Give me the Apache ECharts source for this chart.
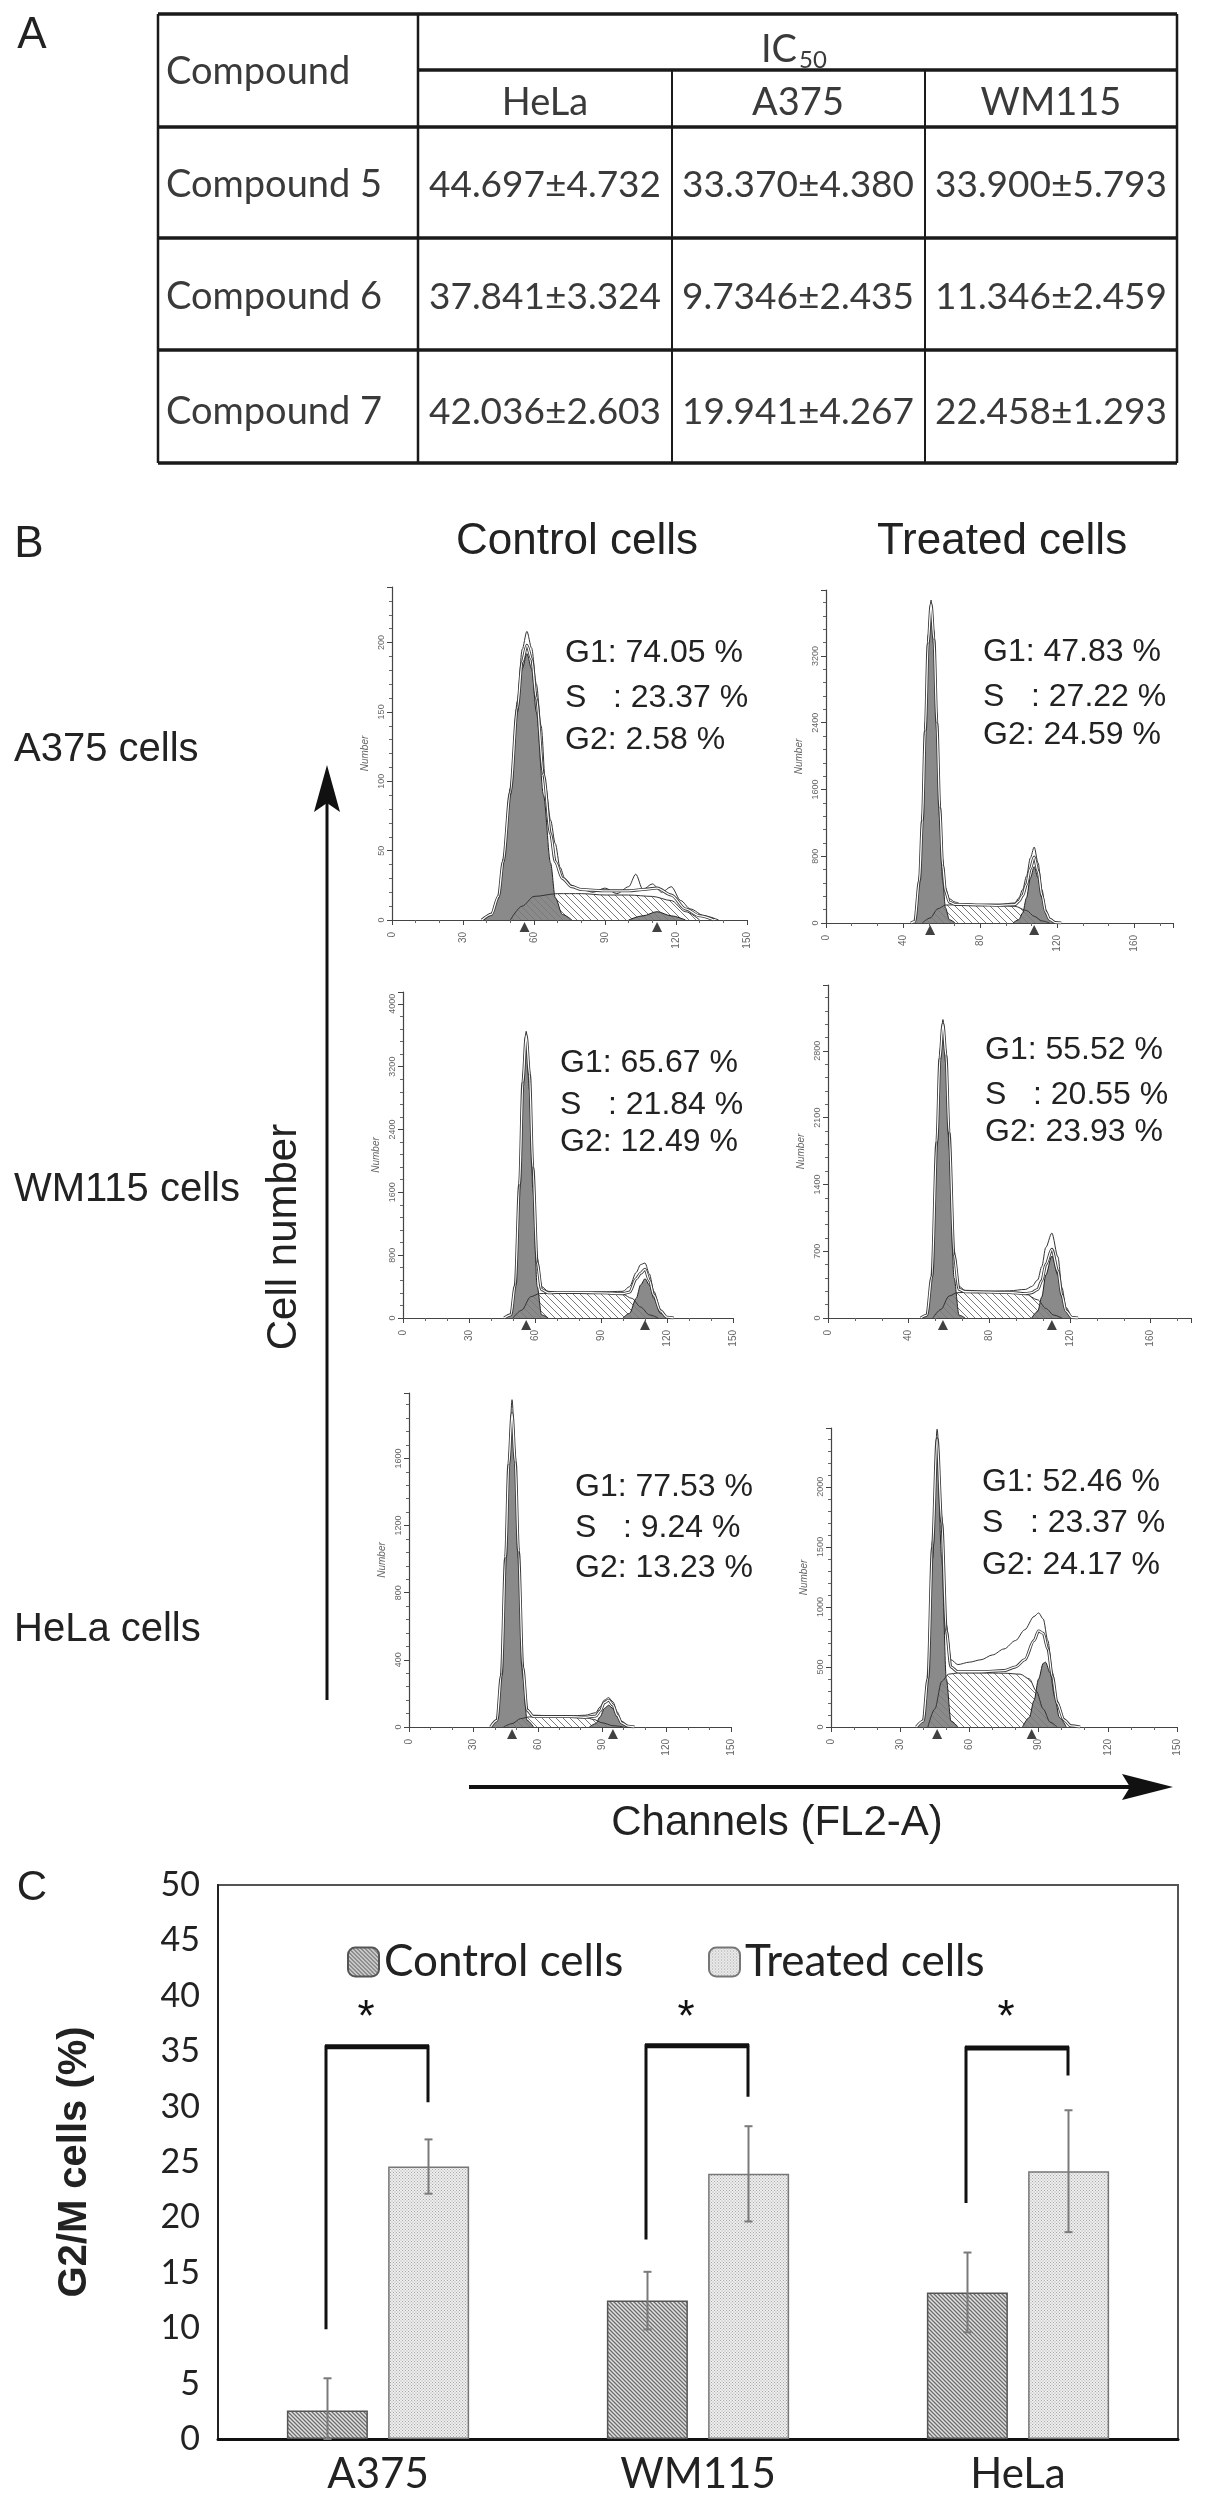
<!DOCTYPE html>
<html>
<head>
<meta charset="utf-8">
<title>IC50 and cell cycle</title>
<script src="https://cdn.jsdelivr.net/npm/echarts@6/dist/echarts.min.js"></script>
<style>
html, body { margin: 0; padding: 0; background: #fff; }
#main { width: 1205px; height: 2502px; }
</style>
</head>
<body>
<div id="main"></div>
<script>
// ---- A: IC50 table
var compounds = ['Compound 5', 'Compound 6', 'Compound 7'];
var cellLines = ['HeLa', 'A375', 'WM115'];
var ic50Mean = [['44.697', '33.370', '33.900'], ['37.841', '9.7346', '11.346'], ['42.036', '19.941', '22.458']];
var ic50Sd = [['4.732', '4.380', '5.793'], ['3.324', '2.435', '2.459'], ['2.603', '4.267', '1.293']];

// ---- B: cell cycle histograms (channel, count)
var rowNames = ['A375 cells', 'WM115 cells', 'HeLa cells'];
var phaseLabels = ['G1', 'S   ', 'G2'];
var a375CtrlPct = ['74.05', '23.37', '2.58'];
var a375TrtPct = ['47.83', '27.22', '24.59'];
var wm115CtrlPct = ['65.67', '21.84', '12.49'];
var wm115TrtPct = ['55.52', '20.55', '23.93'];
var helaCtrlPct = ['77.53', '9.24', '13.23'];
var helaTrtPct = ['52.46', '23.37', '24.17'];

var a375CtrlG1 = [[38,0],[42,4],[45,16],[47,41],[50,90],[53,150],[55,181],[57,192],[59,181],[61,150],[64,90],[67,41],[69,16],[72,4],[76,0]];
var a375CtrlS = [[50,0],[55,10],[60,17],[70,19],[80,19],[90,18],[100,18],[110,17],[118,14],[124,6],[130,0]];
var a375CtrlG2 = [[100,0],[106,3],[112,6],[118,3],[124,0]];
var a375CtrlFit = [[38,0],[42,4],[45,17],[47,42],[50,92],[53,153],[55,186],[57,198],[59,188],[61,160],[64,105],[67,62],[69,42],[72,30],[76,24],[80,22],[90,21],[100,21],[106,22],[112,23],[118,18],[124,8],[130,3],[136,0]];
var a375CtrlRaw = [[38,0],[42,5],[45,18],[47,44],[50,95],[53,158],[55,195],[57,208],[59,196],[61,170],[63,140],[65,95],[67,72],[69,55],[71,38],[73,30],[76,25],[80,22],[85,20],[90,23],[95,19],[100,24],[103,33],[106,22],[110,26],[114,20],[118,24],[122,14],[126,8],[132,3],[138,0]];
var a375CtrlPeaks = [56, 112];

var a375TrtG1 = [[44,0],[46,15],[48.5,510],[50,1220],[51.5,2270],[53,3300],[54.5,3750],[56,3300],[57.5,2270],[59,1220],[60.5,510],[62,180],[64,40],[67,0]];
var a375TrtS = [[50,0],[54,60],[58,170],[62,215],[70,220],[80,215],[90,210],[98,200],[104,150],[108,80],[112,25],[116,0]];
var a375TrtG2 = [[97,0],[100,40],[102,120],[104,300],[106,540],[108,674],[110,540],[112,300],[114,120],[116,40],[119,0]];
var a375TrtFit = [[44,0],[46,15],[48.5,510],[50,1225],[51.5,2300],[53,3350],[54.5,3820],[56,3400],[57.5,2400],[59,1380],[60.5,690],[62,380],[64,250],[67,222],[70,222],[80,217],[90,212],[98,220],[100,260],[102,330],[104,460],[106,650],[108,790],[110,620],[112,330],[114,130],[116,45],[119,5],[122,0]];
var a375TrtRaw = [[44,0],[46,20],[48.5,560],[50,1300],[51.5,2400],[53,3450],[54.5,3870],[56,3500],[57.5,2500],[59,1450],[60.5,760],[62,420],[64,290],[67,250],[70,230],[80,220],[90,225],[98,240],[100,300],[102,400],[104,560],[106,780],[108,910],[110,720],[112,400],[114,160],[116,60],[119,10],[122,0]];
var a375TrtPeaks = [54, 108];

var wm115CtrlG1 = [[46,0],[49,40],[51,400],[53,1650],[54.5,2900],[56,3450],[57.5,2900],[59,1650],[61,400],[63,40],[66,0]];
var wm115CtrlS = [[50,0],[54,100],[58,270],[62,310],[70,320],[80,320],[90,315],[100,300],[104,250],[108,140],[112,40],[116,0]];
var wm115CtrlG2 = [[100,0],[103,60],[106,250],[108,420],[110,500],[112,420],[114,250],[117,60],[120,0]];
var wm115CtrlFit = [[46,0],[49,40],[51,410],[53,1700],[54.5,3000],[56,3600],[57.5,3100],[59,1920],[61,700],[63,360],[66,320],[70,325],[80,325],[90,320],[100,310],[103,330],[106,500],[108,570],[110,620],[112,480],[114,290],[117,90],[120,10],[123,0]];
var wm115CtrlRaw = [[46,0],[49,45],[51,430],[53,1750],[54.5,3100],[56,3650],[57.5,3150],[59,1980],[61,760],[63,400],[66,340],[70,330],[80,320],[90,330],[100,340],[103,400],[106,580],[108,680],[110,700],[112,560],[114,340],[117,110],[120,15],[123,0]];
var wm115CtrlPeaks = [56, 110];

var wm115TrtG1 = [[46,0],[49,30],[51.5,420],[54,1800],[55.5,2650],[57,3000],[58.5,2650],[60,1800],[62.5,420],[65,30],[68,0]];
var wm115TrtS = [[52,0],[56,90],[60,230],[64,265],[70,270],[80,270],[90,265],[98,250],[104,190],[108,100],[112,30],[116,0]];
var wm115TrtG2 = [[101,0],[104,70],[106,220],[108,450],[111,650],[114,450],[116,220],[118,70],[121,0]];
var wm115TrtFit = [[46,0],[49,30],[51.5,430],[54,1850],[55.5,2720],[57,3080],[58.5,2750],[60,1950],[62.5,660],[65,300],[68,275],[80,272],[90,267],[98,255],[101,265],[104,300],[106,390],[108,560],[111,720],[114,490],[116,240],[118,75],[121,5],[124,0]];
var wm115TrtRaw = [[46,0],[49,35],[51.5,450],[54,1900],[55.5,2800],[57,3128],[58.5,2800],[60,2000],[62.5,700],[65,330],[68,290],[80,280],[90,285],[98,300],[101,330],[104,400],[106,540],[108,740],[111,890],[114,640],[116,320],[118,110],[121,15],[124,0]];
var wm115TrtPeaks = [57, 111];

var helaCtrlG1 = [[38,0],[41,40],[43,300],[45,1000],[46.5,1550],[48,1850],[49.5,1550],[51,1000],[53,300],[55,40],[58,0]];
var helaCtrlS = [[44,0],[48,20],[52,50],[56,60],[65,62],[75,62],[82,58],[86,45],[90,25],[95,8],[100,0]];
var helaCtrlG2 = [[84,0],[87,20],[89,60],[91,110],[93,130],[95,110],[97,60],[99,20],[102,0]];
var helaCtrlFit = [[38,0],[41,40],[43,305],[45,1010],[46.5,1565],[48,1870],[49.5,1580],[51,1045],[53,355],[55,100],[58,62],[65,62],[75,62],[82,58],[87,65],[89,95],[91,145],[93,160],[95,130],[97,70],[99,25],[102,5],[105,0]];
var helaCtrlRaw = [[38,0],[41,45],[43,320],[45,1030],[46.5,1600],[48,1950],[49.5,1620],[51,1070],[53,380],[55,110],[58,70],[65,68],[75,66],[82,70],[87,85],[89,120],[91,160],[93,175],[95,150],[97,90],[99,35],[102,8],[105,0]];
var helaCtrlPeaks = [48, 95];

var helaTrtG1 = [[37,0],[40,50],[42,400],[44,1400],[46,2300],[48,1400],[50,400],[52,50],[55,0]];
var helaTrtS = [[42,0],[45,150],[48,380],[51,440],[55,450],[65,450],[75,448],[82,440],[86,400],[89,300],[92,150],[95,40],[98,0]];
var helaTrtG2 = [[83,0],[86,80],[88,220],[90,400],[92,530],[93,540],[95,450],[97,250],[99,80],[102,0]];
var helaTrtFit = [[37,0],[40,50],[42,400],[44,1500],[46,2400],[48,1700],[50,800],[52,500],[55,460],[65,460],[75,470],[80,500],[84,560],[88,720],[90,800],[92,780],[94,650],[96,420],[98,200],[101,60],[104,10],[108,0]];
var helaTrtRaw = [[37,0],[40,60],[42,420],[44,1550],[46,2480],[48,1750],[50,850],[52,560],[55,520],[60,540],[65,560],[70,600],[75,650],[80,720],[84,810],[88,920],[90,950],[92,900],[94,720],[96,450],[98,220],[101,70],[104,15],[108,0]];
var helaTrtPeaks = [46, 87];

// ---- C: G2/M bars
var groups = ['A375', 'WM115', 'HeLa'];
var controlG2M = [2.58, 12.49, 13.23];
var treatedG2M = [24.59, 23.93, 24.17];
var controlErr = [2.9, 2.6, 3.6];
var treatedErr = [2.45, 4.3, 5.5];
var bracketLeftEnd = [9.9, 18.0, 21.3];
var bracketRightEnd = [30.4, 30.9, 32.8];
var bracketTop = [35.4, 35.5, 35.3];
var starLevel = [38.7, 38.7, 38.7];

// histogram panels, in reading order
var hists = [
    {g1: a375CtrlG1, s: a375CtrlS, g2: a375CtrlG2, fit: a375CtrlFit, raw: a375CtrlRaw, peaks: a375CtrlPeaks, pct: a375CtrlPct},
    {g1: a375TrtG1, s: a375TrtS, g2: a375TrtG2, fit: a375TrtFit, raw: a375TrtRaw, peaks: a375TrtPeaks, pct: a375TrtPct},
    {g1: wm115CtrlG1, s: wm115CtrlS, g2: wm115CtrlG2, fit: wm115CtrlFit, raw: wm115CtrlRaw, peaks: wm115CtrlPeaks, pct: wm115CtrlPct},
    {g1: wm115TrtG1, s: wm115TrtS, g2: wm115TrtG2, fit: wm115TrtFit, raw: wm115TrtRaw, peaks: wm115TrtPeaks, pct: wm115TrtPct},
    {g1: helaCtrlG1, s: helaCtrlS, g2: helaCtrlG2, fit: helaCtrlFit, raw: helaCtrlRaw, peaks: helaCtrlPeaks, pct: helaCtrlPct},
    {g1: helaTrtG1, s: helaTrtS, g2: helaTrtG2, fit: helaTrtFit, raw: helaTrtRaw, peaks: helaTrtPeaks, pct: helaTrtPct}
];
// layout of each histogram box (pixels) and its scales
var histLayout = [
    {left: 392, top: 587, width: 355, height: 333, xMax: 150, xInt: 30, yMax: 240, yInt: 50, tx: 565, ty: [653, 698, 740]},
    {left: 826, top: 590, width: 347, height: 333, xMax: 180, xInt: 40, yMax: 3990, yInt: 800, tx: 983, ty: [652, 697, 735]},
    {left: 403, top: 992, width: 330, height: 326, xMax: 150, xInt: 30, yMax: 4150, yInt: 800, tx: 560, ty: [1063, 1105, 1142]},
    {left: 828, top: 985, width: 363, height: 333, xMax: 180, xInt: 40, yMax: 3490, yInt: 700, tx: 985, ty: [1050, 1095, 1132]},
    {left: 409, top: 1393, width: 322, height: 334, xMax: 150, xInt: 30, yMax: 1990, yInt: 400, tx: 575, ty: [1487, 1528, 1568]},
    {left: 831, top: 1428, width: 346, height: 299, xMax: 150, xInt: 30, yMax: 2490, yInt: 500, tx: 982, ty: [1482, 1523, 1565]}
];

function hatch(size, bg, fg, lw) {
    var c = document.createElement('canvas');
    c.width = size; c.height = size;
    var ctx = c.getContext('2d');
    if (bg) { ctx.fillStyle = bg; ctx.fillRect(0, 0, size, size); }
    ctx.strokeStyle = fg;
    ctx.lineWidth = lw;
    ctx.beginPath();
    ctx.moveTo(-1, -1); ctx.lineTo(size + 1, size + 1);
    ctx.moveTo(-1, size - 1); ctx.lineTo(1, size + 1);
    ctx.moveTo(size - 1, -1); ctx.lineTo(size + 1, 1);
    ctx.stroke();
    return {image: c, repeat: 'repeat'};
}
function dots(size, bg, fg) {
    var c = document.createElement('canvas');
    c.width = size; c.height = size;
    var ctx = c.getContext('2d');
    ctx.fillStyle = bg; ctx.fillRect(0, 0, size, size);
    ctx.fillStyle = fg;
    ctx.fillRect(0, 0, 1, 1);
    ctx.fillRect(size / 2, size / 2, 1, 1);
    return {image: c, repeat: 'repeat'};
}

var sHatch = hatch(7, null, '#7a7a7a', 1);
var ctrlFill = hatch(4, '#e2e2e2', '#6e6e6e', 1.3);
var trtFill = dots(3, '#eeeeee', '#a8a8a8');

var grids = [], xAxes = [], yAxes = [], series = [], els = [];

function onlyMultiples(step) {
    return function (v) { return (Math.round(v) % step === 0) ? v : ''; };
}
function areaLine(i, data, fill, edge) {
    return {
        type: 'line', xAxisIndex: i, yAxisIndex: i, data: data, showSymbol: false,
        smooth: 0.3, smoothMonotone: 'x', silent: true,
        lineStyle: {color: edge, width: 1}, areaStyle: {color: fill, opacity: 1}
    };
}
function plainLine(i, data, color, w) {
    return {
        type: 'line', xAxisIndex: i, yAxisIndex: i, data: data, showSymbol: false,
        smooth: 0.3, smoothMonotone: 'x', silent: true,
        lineStyle: {color: color, width: w}
    };
}

hists.forEach(function (h, i) {
    var L = histLayout[i];
    grids.push({left: L.left, top: L.top, width: L.width, height: L.height});
    xAxes.push({
        type: 'value', gridIndex: i, min: 0, max: L.xMax, interval: L.xInt,
        axisLine: {lineStyle: {color: '#444', width: 1.2}},
        axisTick: {length: 5, lineStyle: {color: '#444'}},
        minorTick: {show: true, splitNumber: 3, length: 3, lineStyle: {color: '#666'}},
        splitLine: {show: false},
        axisLabel: {fontSize: 10, fontFamily: 'Liberation Sans', color: '#666', rotate: 90, margin: 12, formatter: onlyMultiples(L.xInt)}
    });
    yAxes.push({
        type: 'value', gridIndex: i, min: 0, max: L.yMax, interval: L.yInt,
        name: 'Number', nameLocation: 'middle', nameGap: 22,
        nameTextStyle: {fontSize: 10, fontStyle: 'italic', fontFamily: 'Liberation Sans', color: '#666'},
        axisLine: {show: true, lineStyle: {color: '#444', width: 1.2}},
        axisTick: {show: true, length: 5, lineStyle: {color: '#444'}},
        minorTick: {show: true, splitNumber: 5, length: 3, lineStyle: {color: '#666'}},
        splitLine: {show: false},
        axisLabel: {fontSize: 9, fontFamily: 'Liberation Sans', color: '#666', rotate: 90, margin: 6, formatter: onlyMultiples(L.yInt)}
    });
    series.push(areaLine(i, h.g1, '#8a8a8a', '#222'));
    series.push(areaLine(i, h.g2, '#8a8a8a', '#222'));
    series.push(areaLine(i, h.s, sHatch, '#333'));
    series.push(plainLine(i, h.raw, '#333', 1));
    series.push(plainLine(i, h.fit, '#3a3a3a', 3));
    series.push(plainLine(i, h.fit, '#ffffff', 1.3));
    series.push({
        type: 'scatter', xAxisIndex: i, yAxisIndex: i, clip: false, silent: true,
        data: h.peaks.map(function (p) { return [p, 0]; }),
        symbol: 'triangle', symbolSize: [10, 10], symbolOffset: [0, 7],
        itemStyle: {color: '#111'}
    });
    // phase percentages
    h.pct.forEach(function (p, j) {
        els.push({type: 'text', x: L.tx, y: L.ty[j], style: {
            text: phaseLabels[j] + ': ' + p + ' %', fontSize: 32, fontFamily: 'Liberation Sans', fill: '#222',
            align: 'left', verticalAlign: 'middle', textAlign: 'left', textVerticalAlign: 'middle'}});
    });
});

// ---- bar chart grid
grids.push({left: 218, top: 1885, width: 960, height: 554, show: true, borderColor: '#555', borderWidth: 2});
xAxes.push({
    type: 'category', gridIndex: 6, data: groups,
    axisLine: {lineStyle: {color: '#111', width: 3}},
    axisTick: {show: false},
    axisLabel: {fontSize: 42, fontFamily: 'Lato', color: '#222', margin: 14}
});
yAxes.push({
    type: 'value', gridIndex: 6, min: 0, max: 50, interval: 5,
    name: 'G2/M cells (%)', nameLocation: 'middle', nameGap: 123,
    nameTextStyle: {fontSize: 40, fontWeight: 'bold', fontFamily: 'Liberation Sans', color: '#222'},
    axisLine: {show: true, lineStyle: {color: '#222', width: 2}},
    axisTick: {show: false},
    splitLine: {show: false},
    axisLabel: {fontSize: 34, fontFamily: 'Lato', color: '#222', margin: 18}
});
series.push({
    type: 'bar', name: 'Control cells', xAxisIndex: 6, yAxisIndex: 6, data: controlG2M,
    barWidth: 81, barGap: '25%', itemStyle: {color: ctrlFill, borderColor: '#555', borderWidth: 1.5}
});
series.push({
    type: 'bar', name: 'Treated cells', xAxisIndex: 6, yAxisIndex: 6, data: treatedG2M,
    barWidth: 81, barGap: '25%', itemStyle: {color: trtFill, borderColor: '#777', borderWidth: 1.5}
});

function errorBars(offset) {
    return function (params, api) {
        var k = api.value(0);
        var lo = api.coord([k, api.value(1)]);
        var hi = api.coord([k, api.value(2)]);
        var x = lo[0] + offset;
        var st = {stroke: '#7a7a7a', lineWidth: 2};
        return {type: 'group', children: [
            {type: 'line', shape: {x1: x, y1: lo[1], x2: x, y2: hi[1]}, style: st},
            {type: 'line', shape: {x1: x - 4, y1: hi[1], x2: x + 4, y2: hi[1]}, style: st},
            {type: 'line', shape: {x1: x - 4, y1: lo[1], x2: x + 4, y2: lo[1]}, style: st}
        ]};
    };
}
series.push({
    type: 'custom', xAxisIndex: 6, yAxisIndex: 6, silent: true, z: 5,
    data: controlG2M.map(function (v, k) { return [k, Math.max(0, v - controlErr[k]), v + controlErr[k]]; }),
    renderItem: errorBars(-50.5)
});
series.push({
    type: 'custom', xAxisIndex: 6, yAxisIndex: 6, silent: true, z: 5,
    data: treatedG2M.map(function (v, k) { return [k, v - treatedErr[k], v + treatedErr[k]]; }),
    renderItem: errorBars(50.5)
});
// significance brackets and stars
series.push({
    type: 'custom', xAxisIndex: 6, yAxisIndex: 6, silent: true, z: 6,
    data: groups.map(function (g, k) { return [k, bracketLeftEnd[k], bracketRightEnd[k], bracketTop[k], starLevel[k]]; }),
    renderItem: function (params, api) {
        var k = api.value(0);
        var xc = api.coord([k, 0])[0];
        var yL = api.coord([k, api.value(1)])[1];
        var yR = api.coord([k, api.value(2)])[1];
        var yT = api.coord([k, api.value(3)])[1];
        var yS = api.coord([k, api.value(4)])[1];
        var xl = xc - 52, xr = xc + 50;
        return {type: 'group', children: [
            {type: 'polyline', shape: {points: [[xl, yL], [xl, yT], [xr, yT], [xr, yR]]},
                style: {stroke: '#111', lineWidth: 3, fill: null}},
            {type: 'line', shape: {x1: xl - 1, y1: yT, x2: xr + 1, y2: yT}, style: {stroke: '#111', lineWidth: 5}},
            {type: 'text', x: xc - 12, y: yS + 9, style: {text: '*', fontSize: 44, fontFamily: 'Liberation Sans', fill: '#111',
                align: 'center', verticalAlign: 'middle', textAlign: 'center', textVerticalAlign: 'middle'}}
        ]};
    }
});

// ---- static text / table / arrows
function txt(x, y, s, size, align, extra) {
    var st = {text: s, fontSize: size, fontFamily: 'Liberation Sans', fill: '#222',
        align: align || 'left', verticalAlign: 'middle', textAlign: align || 'left', textVerticalAlign: 'middle'};
    if (extra) { for (var k in extra) st[k] = extra[k]; }
    return {type: 'text', x: x, y: y, style: st};
}
function seg(x1, y1, x2, y2, w, c) {
    return {type: 'line', shape: {x1: x1, y1: y1, x2: x2, y2: y2}, style: {stroke: c || '#1a1a1a', lineWidth: w}};
}

// panel letters
els.push(txt(32, 36, 'A', 44, 'center'));
els.push(txt(29, 545, 'B', 44, 'center'));
els.push(txt(32, 1888, 'C', 42, 'center'));

// table grid
var colX = [158, 418, 672, 925, 1177];
var rowY = [14, 70, 127, 238, 350, 463];
els.push(seg(colX[0], rowY[0], colX[4], rowY[0], 3.5));
els.push(seg(colX[1], rowY[1], colX[4], rowY[1], 3.5));
for (var r = 2; r < rowY.length; r++) els.push(seg(colX[0], rowY[r], colX[4], rowY[r], 3.5));
els.push(seg(colX[0], rowY[0], colX[0], rowY[5], 2.5));
els.push(seg(colX[1], rowY[0], colX[1], rowY[5], 2.5));
els.push(seg(colX[2], rowY[1], colX[2], rowY[5], 2));
els.push(seg(colX[3], rowY[1], colX[3], rowY[5], 2));
els.push(seg(colX[4], rowY[0], colX[4], rowY[5], 2.5));

var tFont = {fontFamily: 'Lato', fill: '#3a3a3a'};
els.push(txt(166, 72, 'Compound', 38, 'left', tFont));
els.push(txt(797, 50, 'IC', 38, 'right', tFont));
els.push(txt(799, 60, '50', 24, 'left', tFont));
var colMid = [545, 798, 1051];
var rowMid = [185, 297, 412];
cellLines.forEach(function (c, j) { els.push(txt(colMid[j], 103, c, 38, 'center', tFont)); });
compounds.forEach(function (c, r) {
    els.push(txt(166, rowMid[r], c, 38, 'left', tFont));
    for (var j = 0; j < 3; j++) {
        els.push(txt(colMid[j], rowMid[r], ic50Mean[r][j] + '\u00b1' + ic50Sd[r][j], 37, 'center', tFont));
    }
});

// panel B headings and row labels
els.push(txt(577, 542, 'Control cells', 44, 'center'));
els.push(txt(1002, 542, 'Treated cells', 44, 'center'));
var rowLabelY = [750, 1190, 1630];
rowNames.forEach(function (n, r) { els.push(txt(14, rowLabelY[r], n, 40, 'left')); });

// axis arrows
els.push(seg(327, 1700, 327, 800, 3, '#111'));
els.push({type: 'polygon', shape: {points: [[327, 765], [314, 812], [327, 803], [340, 812]]}, style: {fill: '#111'}});
els.push({type: 'text', x: 284, y: 1237, rotation: Math.PI / 2, style: {text: 'Cell number', fontSize: 42,
    fontFamily: 'Liberation Sans', fill: '#222', align: 'center', verticalAlign: 'middle', textAlign: 'center', textVerticalAlign: 'middle'}});
els.push(seg(469, 1787, 1135, 1787, 4, '#111'));
els.push({type: 'polygon', shape: {points: [[1173, 1787], [1122, 1774], [1130, 1787], [1122, 1800]]}, style: {fill: '#111'}});
els.push(txt(777, 1823, 'Channels (FL2-A)', 42, 'center'));

var option = {
    animation: false,
    backgroundColor: '#fff',
    grid: grids,
    xAxis: xAxes,
    yAxis: yAxes,
    legend: [
        {data: ['Control cells'], left: 347, top: 1940, padding: 0, selectedMode: false,
            itemWidth: 31, itemHeight: 29, textStyle: {fontSize: 44, lineHeight: 44, fontFamily: 'Lato', color: '#222'}},
        {data: ['Treated cells'], left: 708, top: 1940, padding: 0, selectedMode: false,
            itemWidth: 31, itemHeight: 29, textStyle: {fontSize: 44, lineHeight: 44, fontFamily: 'Lato', color: '#222'}}
    ],
    graphic: {elements: els},
    series: series
};

var chart = echarts.init(document.getElementById('main'));
chart.setOption(option, true);
</script>
</body>
</html>
